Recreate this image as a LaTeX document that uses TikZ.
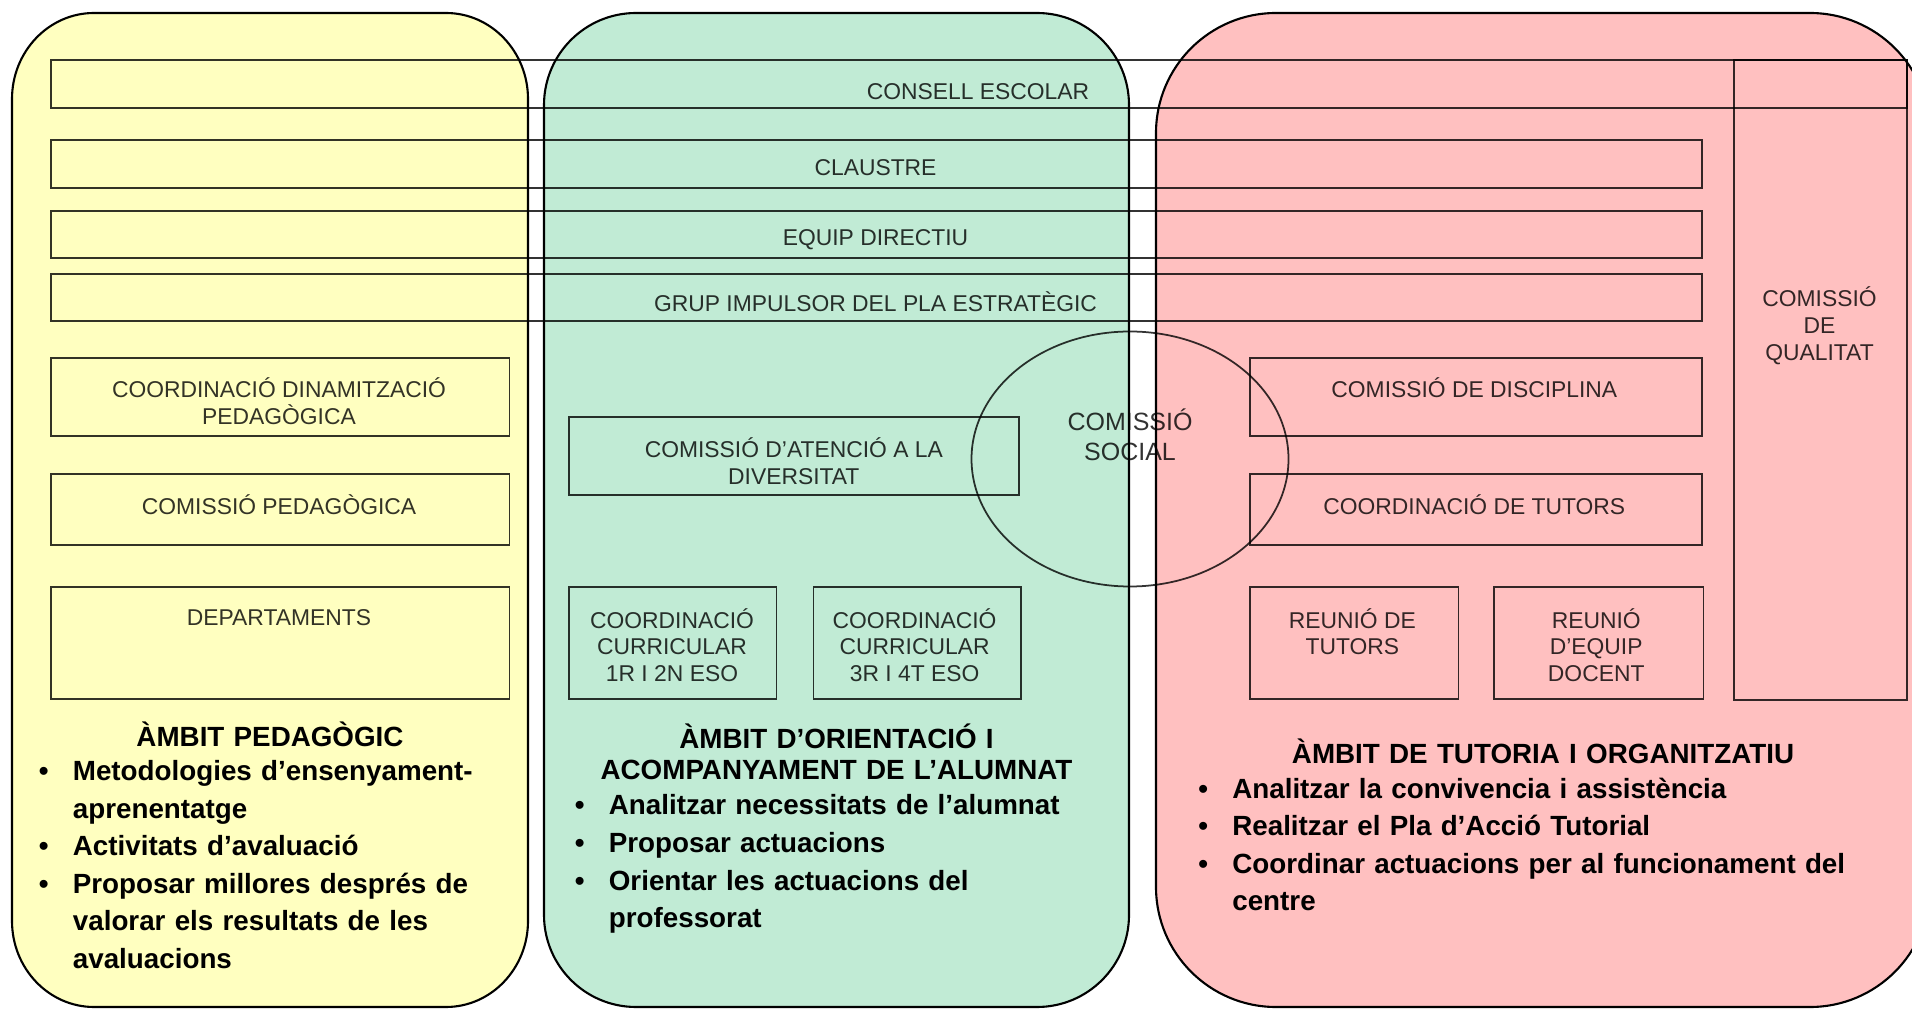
\documentclass[tikz,border=0pt]{standalone}
\usepackage{fontspec}
\setmainfont{Liberation Sans}
\usepackage{tikz}
\usetikzlibrary{positioning, shapes.geometric}

\definecolor{ambitgroc}{RGB}{255,255,192}
\definecolor{ambitverd}{RGB}{193,235,213}
\definecolor{ambitrosa}{RGB}{255,192,192}

% punt de llista amb sagnat penjant
\newcommand{\bul}[1]{\par\noindent\hangindent=0.34cm\hangafter=1
  \makebox[0.34cm][l]{\textbullet}#1\par}

% panell: color, x0, y0, x1, y1, rx, ry
\newcommand{\panell}[7]{%
  \draw[panel, fill=#1] (#2,#3+#7)
    .. controls (#2,#3+0.448*#7) and (#2+0.448*#6,#3) .. (#2+#6,#3)
    -- (#4-#6,#3)
    .. controls (#4-0.448*#6,#3) and (#4,#3+0.448*#7) .. (#4,#3+#7)
    -- (#4,#5-#7)
    .. controls (#4,#5-0.448*#7) and (#4-0.448*#6,#5) .. (#4-#6,#5)
    -- (#2+#6,#5)
    .. controls (#2+0.448*#6,#5) and (#2,#5-0.448*#7) .. (#2,#5-#7) -- cycle;}

\begin{document}
\begin{tikzpicture}[
  x=0.01cm, y=-0.01cm,
  panel/.style={draw=black, line width=0.6pt},
  box/.style={rectangle, draw=black, draw opacity=0.8, line width=0.45pt,
              inner sep=0pt, anchor=north west},
  sz/.style 2 args={minimum width=#1*0.01cm, minimum height=#2*0.01cm},
  boxtext/.style={align=center, inner sep=0pt, text=black, text opacity=0.8,
                  font=\fontsize{6.5}{7.6}\selectfont},
  ambit/.style={anchor=north, inner sep=0pt, align=left,
                font=\fontsize{7.9}{10.7}\selectfont\bfseries}
]
\useasboundingbox (0,0) rectangle (1912,1010);
\clip (0,0) rectangle (1912,1010);

% ambits
\panell{ambitgroc}{12}{13}{528}{1007}{82}{86}
\panell{ambitverd}{544}{13}{1129}{1007}{92}{92}
\panell{ambitrosa}{1156}{13}{1930}{1007}{120}{120}

% organs de tot el centre
\node[box, sz={1856}{48}] (consell) at (50,59) {};
\node[box, sz={173}{640}] (qualitat) at (1733,59) {};
\node[box, sz={1651}{48}] (claustre) at (50,139) {};
\node[box, sz={1651}{47}] (equip) at (50,210) {};
\node[box, sz={1651}{47}] (grup) at (50,273) {};

% ambit pedagogic
\node[box, sz={458.5}{78}] (dinam) at (50,357) {};
\node[box, sz={458.5}{71}] (compedag) at (50,473) {};
\node[box, sz={458.5}{112}] (dept) at (50,586.5) {};

% ambit d'orientacio
\node[box, sz={450}{78}] (diversitat) at (568,416) {};
\node[box, sz={207.5}{112}] (curr12) at (568,586.5) {};
\node[box, sz={207.5}{112}, right=0.355cm of curr12] (curr34) {};

% ambit de tutoria
\node[box, sz={452}{78}] (disciplina) at (1249,357) {};
\node[box, sz={452}{71}] (coordtut) at (1249,473) {};
\node[box, sz={208.5}{112}] (reutut) at (1249,586.5) {};
\node[box, sz={209.5}{112}, right=0.34cm of reutut] (equipdoc) {};

\node[ellipse, draw=black, draw opacity=0.8, line width=0.5pt, inner sep=0pt,
      sz={317}{255}] (social) at (1130,459) {};

% textos
\node[boxtext] (t-consell) at (978,91.5) {CONSELL ESCOLAR};
\node[boxtext] (t-claustre) at (875.5,168) {CLAUSTRE};
\node[boxtext] (t-equip) at (875.5,240) {EQUIP DIRECTIU};
\node[boxtext] (t-grup) at (875.5,302) {GRUP IMPULSOR DEL PLA ESTRATÈGIC};
\node[boxtext] (t-qualitat) at (1819.5,325.6) {COMISSIÓ\\DE\\QUALITAT};
\node[boxtext] (t-dinam) at (279,401) {COORDINACIÓ DINAMITZACIÓ\\PEDAGÒGICA};
\node[boxtext] (t-compedag) at (279,505) {COMISSIÓ PEDAGÒGICA};
\node[boxtext] (t-dept) at (279,618) {DEPARTAMENTS};
\node[boxtext] (t-diversitat) at (793.8,461) {COMISSIÓ D’ATENCIÓ A LA\\DIVERSITAT};
\node[boxtext] (t-curr12) at (672,645) {COORDINACIÓ\\CURRICULAR\\1R I 2N ESO};
\node[boxtext] (t-curr34) at (914.6,645) {COORDINACIÓ\\CURRICULAR\\3R I 4T ESO};
\node[boxtext, font=\fontsize{7.1}{8.7}\selectfont] (t-social) at (1130,435) {COMISSIÓ\\SOCIAL};
\node[boxtext] (t-disciplina) at (1474.3,388) {COMISSIÓ DE DISCIPLINA};
\node[boxtext] (t-coordtut) at (1474.3,505) {COORDINACIÓ DE TUTORS};
\node[boxtext] (t-reutut) at (1352.3,631.6) {REUNIÓ DE\\TUTORS};
\node[boxtext] (t-equipdoc) at (1596.2,645) {REUNIÓ\\D’EQUIP\\DOCENT};

\node[ambit, text width=4.62cm] (amb-ped) at (270,721) {%
  {\centering ÀMBIT PEDAGÒGIC\par}\vspace{-1pt}
  \bul{Metodologies d’ensenyament-\newline aprenentatge}
  \bul{Activitats d’avaluació}
  \bul{Proposar millores després de\newline valorar els resultats de les\newline avaluacions}};
\node[ambit, text width=5.23cm] (amb-ori) at (836.5,722.7) {%
  {\centering\fontsize{7.9}{9}\selectfont ÀMBIT D’ORIENTACIÓ I\\ACOMPANYAMENT DE L’ALUMNAT\par}\vspace{-0.7pt}
  \bul{Analitzar necessitats de l’alumnat}
  \bul{Proposar actuacions}
  \bul{Orientar les actuacions del\newline professorat}};
\node[ambit, text width=6.89cm] (amb-tut) at (1543,738.6) {%
  {\centering ÀMBIT DE TUTORIA I ORGANITZATIU\par}\vspace{-1pt}
  \bul{Analitzar la convivencia i assistència}
  \bul{Realitzar el Pla d’Acció Tutorial}
  \bul{Coordinar actuacions per al funcionament del\newline centre}};
\end{tikzpicture}
\end{document}
